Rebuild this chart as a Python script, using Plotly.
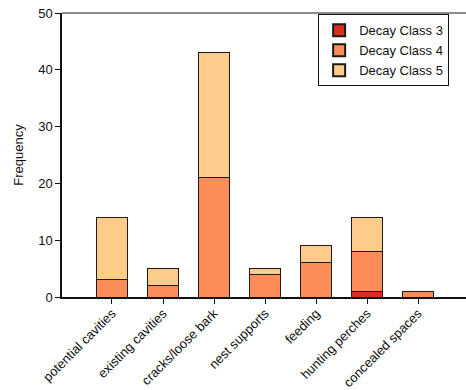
import plotly.graph_objects as go

categories = ["potential cavities", "existing cavities", "cracks/loose bark",
              "nest supports", "feeding", "hunting perches", "concealed spaces"]
class3 = [0, 0, 0, 0, 0, 1, 0]
class4 = [3, 2, 21, 4, 6, 7, 1]
class5 = [11, 3, 22, 1, 3, 6, 0]
series_names = ["Decay Class 3", "Decay Class 4", "Decay Class 5"]
colors = ["#d7301f", "#fc8d59", "#fdcc8a"]
y_ticks = [0, 10, 20, 30, 40, 50]

fig = go.Figure()
for name, vals, col in zip(series_names, [class3, class4, class5], colors):
    fig.add_trace(go.Bar(
        x=list(range(len(categories))), y=vals, name=name,
        marker=dict(color=col, line=dict(color="#1a1a1a", width=1)),
        width=0.6,
    ))

fig.update_layout(
    barmode="stack",
    width=466, height=390,
    margin=dict(l=62, r=0, t=13, b=93, autoexpand=False),
    plot_bgcolor="white", paper_bgcolor="white",
    font=dict(family="Liberation Sans, Arial, sans-serif", size=13, color="#111"),
    showlegend=True,
    legend=dict(
        x=0.634, y=0.995, xanchor="left", yanchor="top",
        bordercolor="#111", borderwidth=1, bgcolor="white",
        traceorder="normal", font=dict(size=13),
        itemsizing="constant", tracegroupgap=0,
    ),
    xaxis=dict(
        range=[-0.98, 6.94], automargin=False,
        tickmode="array", tickvals=list(range(len(categories))), ticktext=categories,
        tickangle=-45, tickfont=dict(size=13), ticklabelstandoff=-3,
        showline=True, linecolor="#111", linewidth=1.5, mirror=False,
        ticks="outside", ticklen=5, tickcolor="#111",
        showgrid=False, zeroline=False,
    ),
    yaxis=dict(
        range=[0, 50], tickvals=y_ticks, automargin=False,
        title=dict(text="Frequency", font=dict(size=13), standoff=12),
        showline=True, linecolor="#111", linewidth=1.5,
        ticks="outside", ticklen=5, tickcolor="#111",
        showgrid=False, zeroline=False, tickfont=dict(size=13),
    ),
)
fig.add_shape(type="line", xref="paper", yref="paper", x0=0, x1=1, y0=1, y1=1,
              line=dict(color="#666", width=1.5))

fig.write_html("out.html", config={"displayModeBar": False},
               post_script="document.body.style.margin='0';")
